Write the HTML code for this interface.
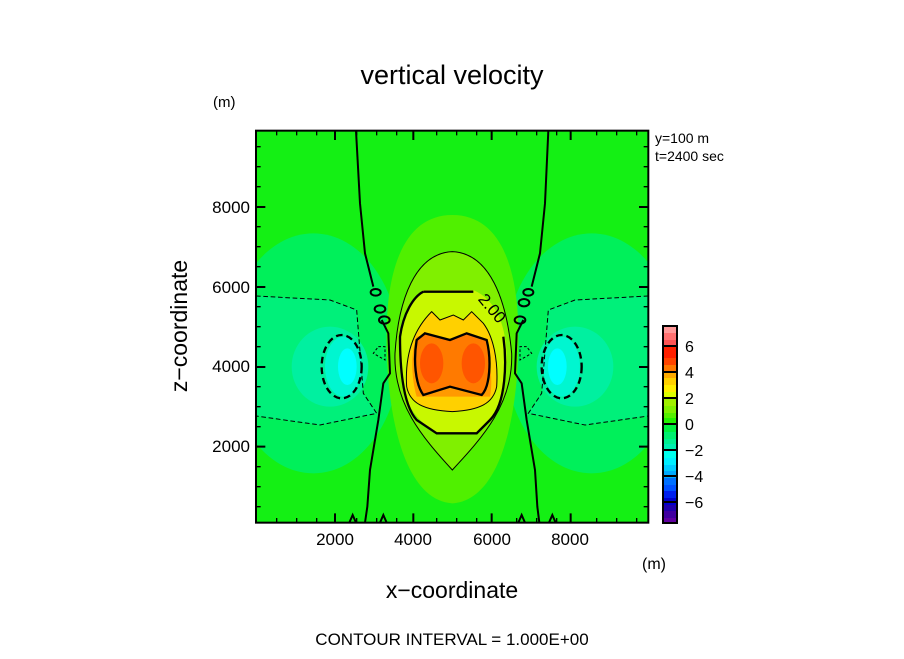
<!DOCTYPE html>
<html><head><meta charset="utf-8"><style>
html,body{margin:0;padding:0;background:#fff;}
svg text{font-family:"Liberation Sans","DejaVu Sans",sans-serif;fill:#000;}
</style></head><body>
<svg width="904" height="654" viewBox="0 0 904 654" xmlns="http://www.w3.org/2000/svg">
<defs><clipPath id="c"><rect x="18" y="32" width="1177" height="1176"/></clipPath></defs>
<g transform="translate(250,120) scale(0.33333)">
<g clip-path="url(#c)">
<rect x="18" y="32" width="1177" height="1176" fill="#14f014"/>
<ellipse cx="190" cy="700" rx="260" ry="360" fill="#00f05a"/>
<ellipse cx="1025" cy="700" rx="260" ry="360" fill="#00f05a"/>
<path d="M18 528 L240 540 L320 570 L340 820 L380 880 L210 915 L18 888 Z" fill="#00f07a"/>
<path d="M1195 528 L975 540 L895 570 L875 820 L835 880 L1005 915 L1195 888 Z" fill="#00f07a"/>
<ellipse cx="240" cy="740" rx="115" ry="120" fill="#00f0a0"/>
<ellipse cx="975" cy="740" rx="115" ry="120" fill="#00f0a0"/>
<ellipse cx="280" cy="740" rx="55" ry="90" fill="#00f6d0"/>
<ellipse cx="935" cy="740" rx="55" ry="90" fill="#00f6d0"/>
<ellipse cx="292" cy="740" rx="28" ry="55" fill="#00ffff"/>
<ellipse cx="922" cy="740" rx="28" ry="55" fill="#00ffff"/>
<path d="M607 285 C740 285 800 420 805 620 C810 860 760 1140 607 1150 C455 1140 405 860 410 620 C415 420 475 285 607 285 Z" fill="#50f000"/>
<path d="M607 395 C720 400 770 540 785 700 C790 850 700 950 607 1050 C515 950 430 850 435 700 C445 540 495 400 607 395 Z" fill="#80f000"/>
<path d="M520 510 L670 510 C740 540 770 620 770 720 C770 850 720 900 680 940 L560 940 C500 900 450 850 450 720 C450 620 470 540 520 510 Z" fill="#c8f800"/>
<path d="M545 575 L570 600 L610 585 L640 600 L665 575 L700 610 C730 650 745 720 740 800 C730 850 690 870 607 875 C520 870 480 850 470 800 C465 720 480 640 545 575 Z" fill="#ffd000"/>
<path d="M500 650 L540 640 L600 660 L650 640 L700 660 C720 700 730 780 720 830 L500 830 C485 780 480 700 500 650 Z" fill="#ff9a00"/>
<path d="M525 640 L600 660 L650 640 L710 660 C725 720 720 800 695 825 L600 800 L520 825 C495 790 490 720 500 660 Z" fill="#ff7a00"/>
<ellipse cx="545" cy="730" rx="35" ry="60" fill="#ff5500"/>
<ellipse cx="670" cy="730" rx="35" ry="60" fill="#ff5500"/>
<g fill="none" stroke="#000">
<path stroke-width="6" d="M318 32 L330 250 L345 400 L370 500 M395 600 L415 640 L420 760 L400 790 L385 900 L360 1050 L352 1160 L345 1208"/>
<path stroke-width="6" d="M895 32 L885 250 L870 400 L845 500 M820 600 L800 640 L795 760 L815 790 L830 900 L855 1050 L862 1160 L868 1208"/>
<ellipse stroke-width="6" cx="377" cy="517" rx="15" ry="10"/>
<ellipse stroke-width="6" cx="390" cy="567" rx="16" ry="11"/>
<ellipse stroke-width="6" cx="403" cy="600" rx="16" ry="11"/>
<ellipse stroke-width="6" cx="835" cy="517" rx="15" ry="10"/>
<ellipse stroke-width="6" cx="822" cy="548" rx="16" ry="11"/>
<ellipse stroke-width="6" cx="810" cy="600" rx="16" ry="11"/>
<path stroke-width="3" d="M607 395 C720 400 770 540 785 700 C790 850 700 950 607 1050 C515 950 430 850 435 700 C445 540 495 400 607 395 Z"/>
<path stroke-width="7" d="M520 515 L670 515 M760 650 C770 720 770 850 720 900 L680 940 L560 940 L500 900 C455 850 450 720 450 650 C460 580 490 530 520 515"/>
<path stroke-width="3" d="M545 575 L570 600 L610 585 L640 600 L665 575 L700 610 C730 650 745 720 740 800 C730 850 690 870 607 875 C520 870 480 850 470 800 C465 720 480 640 545 575 Z"/>
<path stroke-width="7" d="M525 640 L600 660 L650 640 L710 660 C725 720 720 800 695 825 L600 800 L520 825 C495 790 490 720 500 660 Z"/>
<path stroke-width="3" stroke-dasharray="14 8" d="M18 528 L240 540 L320 570 L340 820 L380 880 L210 915 L18 888"/>
<path stroke-width="3" stroke-dasharray="14 8" d="M1195 528 L975 540 L895 570 L875 820 L835 880 L1005 915 L1195 888"/>
<ellipse stroke-width="7" stroke-dasharray="20 12" cx="275" cy="740" rx="60" ry="95"/>
<ellipse stroke-width="7" stroke-dasharray="20 12" cx="935" cy="740" rx="60" ry="95"/>
<path stroke-width="3" stroke-dasharray="8 6" d="M385 680 L405 680 L405 720 L370 700 Z M830 680 L810 680 L810 720 L845 700 Z"/>
<path stroke-width="6" d="M298 1208 L308 1185 L318 1208 M390 1208 L400 1185 L410 1208 M805 1208 L815 1185 L825 1208 M897 1208 L907 1185 L917 1208"/>
</g>
<text x="672" y="560" font-size="50" transform="rotate(50 700 560)">2.00</text>
</g>
<rect x="18" y="32" width="1177" height="1176" fill="none" stroke="#000" stroke-width="6"/>
<g stroke="#000" stroke-width="4">
<path d="M80 32v14M140 32v14M200 32v14M320 32v14M380 32v14M440 32v14M560 32v14M620 32v14M680 32v14M800 32v14M860 32v14M920 32v14M1040 32v14M1100 32v14M1160 32v14"/>
<path d="M80 1208v-14M140 1208v-14M200 1208v-14M320 1208v-14M380 1208v-14M440 1208v-14M560 1208v-14M620 1208v-14M680 1208v-14M800 1208v-14M860 1208v-14M920 1208v-14M1040 1208v-14M1100 1208v-14M1160 1208v-14"/>
<path stroke-width="6" d="M255 32v28M490 32v28M725 32v28M962 32v28M255 1208v-28M490 1208v-28M725 1208v-28M962 1208v-28"/>
<path d="M18 80h14M18 140h14M18 200h14M18 320h14M18 380h14M18 440h14M18 560h14M18 620h14M18 680h14M18 800h14M18 860h14M18 920h14M18 1040h14M18 1100h14M18 1160h14"/>
<path d="M1195 80h-14M1195 140h-14M1195 200h-14M1195 320h-14M1195 380h-14M1195 440h-14M1195 560h-14M1195 620h-14M1195 680h-14M1195 800h-14M1195 860h-14M1195 920h-14M1195 1040h-14M1195 1100h-14M1195 1160h-14"/>
<path stroke-width="6" d="M18 261h28M18 501h28M18 741h28M18 980h28M1195 261h-28M1195 501h-28M1195 741h-28M1195 980h-28"/>
</g>
</g>
<g>
<rect x="663" y="326" width="14" height="8" fill="#ff9999"/>
<rect x="663" y="333" width="14" height="7" fill="#ff7070"/>
<rect x="663" y="340" width="14" height="7" fill="#ff5555"/>
<rect x="663" y="347" width="14" height="12" fill="#ff2000"/>
<rect x="663" y="358" width="14" height="7" fill="#ff4400"/>
<rect x="663" y="365" width="14" height="7" fill="#ff7700"/>
<rect x="663" y="372" width="14" height="7" fill="#ffaa00"/>
<rect x="663" y="378" width="14" height="7" fill="#ffd000"/>
<rect x="663" y="385" width="14" height="7" fill="#ffee00"/>
<rect x="663" y="392" width="14" height="8" fill="#ddff00"/>
<rect x="663" y="399" width="14" height="8" fill="#a0f000"/>
<rect x="663" y="406" width="14" height="7" fill="#80f000"/>
<rect x="663" y="413" width="14" height="6" fill="#55f000"/>
<rect x="663" y="418" width="14" height="6" fill="#22f000"/>
<rect x="663" y="424" width="14" height="8" fill="#00f040"/>
<rect x="663" y="432" width="14" height="7" fill="#00f070"/>
<rect x="663" y="439" width="14" height="5" fill="#00f090"/>
<rect x="663" y="444" width="14" height="7" fill="#00f0b0"/>
<rect x="663" y="451" width="14" height="7" fill="#00ffee"/>
<rect x="663" y="458" width="14" height="7" fill="#00eeff"/>
<rect x="663" y="465" width="14" height="6" fill="#00ccff"/>
<rect x="663" y="471" width="14" height="7" fill="#00aaff"/>
<rect x="663" y="478" width="14" height="7" fill="#0070ff"/>
<rect x="663" y="485" width="14" height="6" fill="#0050ff"/>
<rect x="663" y="491" width="14" height="7" fill="#0020ee"/>
<rect x="663" y="498" width="14" height="7" fill="#0000cc"/>
<rect x="663" y="505" width="14" height="6" fill="#2000aa"/>
<rect x="663" y="511" width="14" height="7" fill="#4000a0"/>
<rect x="663" y="518" width="14" height="5" fill="#6000a0"/>
<rect x="663" y="326" width="14" height="197" fill="none" stroke="#000" stroke-width="2"/>
<g stroke="#000" stroke-width="2"><path d="M663 372h14M663 424h14M663 450h14M663 398h14M663 346h14M663 476h14M663 502h14"/></g>
<g font-size="16">
<text x="685" y="352">6</text><text x="685" y="378">4</text><text x="685" y="404">2</text><text x="685" y="430">0</text>
<text x="685" y="456">−2</text><text x="685" y="482">−4</text><text x="685" y="508">−6</text>
</g>
</g>
<text x="452" y="84" font-size="27" text-anchor="middle">vertical velocity</text>
<text x="213" y="107" font-size="15">(m)</text>
<text x="655" y="143" font-size="14">y=100 m</text>
<text x="655" y="161" font-size="14">t=2400 sec</text>
<g font-size="17" text-anchor="end">
<text x="250" y="213">8000</text><text x="250" y="293">6000</text><text x="250" y="372">4000</text><text x="250" y="452">2000</text>
</g>
<g font-size="17" text-anchor="middle">
<text x="335" y="545">2000</text><text x="413" y="545">4000</text><text x="492" y="545">6000</text><text x="570" y="545">8000</text>
</g>
<text x="642" y="569" font-size="16">(m)</text>
<text x="452" y="598" font-size="23" text-anchor="middle">x−coordinate</text>
<text x="187" y="326" font-size="23" text-anchor="middle" transform="rotate(-90 187 326)">z−coordinate</text>
<text x="452" y="645" font-size="17" text-anchor="middle">CONTOUR INTERVAL = 1.000E+00</text>
</svg>
</body></html>
